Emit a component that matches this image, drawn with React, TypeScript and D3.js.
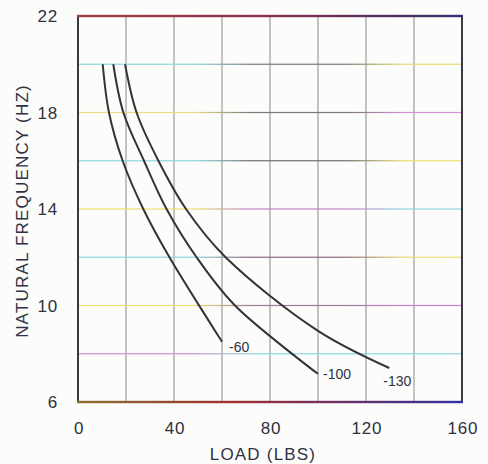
import React from 'react';
import * as d3 from 'd3';

// Load (lbs) vs natural frequency (Hz) for the three isolator models
const seriesNames = ['-60', '-100', '-130'];
const loads60 = [10.3, 12.9, 18.6, 27.2, 38.1, 60];
const freqs60 = [20, 18, 16, 14, 12, 8.5];
const loads100 = [14.7, 18.9, 27.5, 36.9, 49.4, 65.4, 100];
const freqs100 = [20, 18, 16, 14, 12, 10, 7.17];
const loads130 = [19.6, 24.4, 33.5, 45, 61.5, 100, 129.7];
const freqs130 = [20, 18, 16, 14, 12, 8.95, 7.41];

const xTicks = [0, 40, 80, 120, 160];
const yTicks = [6, 10, 14, 18, 22];
const xGrid = [20, 40, 60, 80, 100, 120, 140];
const yGrid = [8, 10, 12, 14, 16, 18, 20];

// misregistered print colours for each horizontal rule (left, middle, right)
const gridTints: Record<number, [string, string, string]> = {
  20: ['#8fd8e0', '#7a7a80', '#e8e070'],
  18: ['#e8e080', '#7a7a7a', '#d890d8'],
  16: ['#8fd8e0', '#6e6e70', '#e8e070'],
  14: ['#e8e070', '#c080c8', '#8fd8e0'],
  12: ['#8fd8e0', '#8a6a80', '#e8e070'],
  10: ['#e8e070', '#a07a98', '#d080d8'],
  8: ['#c890d0', '#8fd8e0', '#8fd8e0'],
};

const App: React.FC = () => {
  const width = 488;
  const height = 464;
  const margin = { top: 16, right: 26, bottom: 62, left: 78 };
  const innerW = width - margin.left - margin.right;
  const innerH = height - margin.top - margin.bottom;

  const x = d3.scaleLinear().domain([0, 160]).range([0, innerW]);
  const y = d3.scaleLinear().domain([6, 22]).range([innerH, 0]);

  const line = d3.line<[number, number]>()
    .x(d => x(d[0]))
    .y(d => y(d[1]))
    .curve(d3.curveCatmullRom.alpha(0.5));

  const series = [
    { name: seriesNames[0], pts: loads60.map((l, i) => [l, freqs60[i]] as [number, number]), dx: 7, dy: 10 },
    { name: seriesNames[1], pts: loads100.map((l, i) => [l, freqs100[i]] as [number, number]), dx: 5, dy: 5 },
    { name: seriesNames[2], pts: loads130.map((l, i) => [l, freqs130[i]] as [number, number]), dx: -6, dy: 18 },
  ];

  const textColor = '#2e3244';
  const font = 'Liberation Sans, Arial, sans-serif';

  return (
    <svg width={width} height={height} style={{ position: 'absolute', left: 0, top: 0 }}>
      <defs>
        {yGrid.map(v => (
          <linearGradient key={v} id={`g${v}`} x1="0" x2="1" y1="0" y2="0">
            <stop offset="0%" stopColor={gridTints[v][0]} />
            <stop offset="30%" stopColor={gridTints[v][0]} />
            <stop offset="45%" stopColor={gridTints[v][1]} />
            <stop offset="70%" stopColor={gridTints[v][1]} />
            <stop offset="85%" stopColor={gridTints[v][2]} />
            <stop offset="100%" stopColor={gridTints[v][2]} />
          </linearGradient>
        ))}
        <linearGradient id="topEdge" x1="0" x2="1" y1="0" y2="0">
          <stop offset="0%" stopColor="#a04040" />
          <stop offset="50%" stopColor="#8a3050" />
          <stop offset="100%" stopColor="#303070" />
        </linearGradient>
        <linearGradient id="bottomEdge" x1="0" x2="1" y1="0" y2="0">
          <stop offset="0%" stopColor="#8a7030" />
          <stop offset="40%" stopColor="#a03030" />
          <stop offset="100%" stopColor="#3030a0" />
        </linearGradient>
      </defs>
      <rect width={width} height={height} fill="#fcfcfa" />
      <g transform={`translate(${margin.left},${margin.top})`}>
        {xGrid.map(v => (
          <line key={v} x1={x(v)} x2={x(v)} y1={0} y2={innerH} stroke="#8a8a8e" strokeWidth={1} />
        ))}
        {yGrid.map(v => (
          <rect key={v} x={0} y={y(v) - 0.6} width={innerW} height={1.2} fill={`url(#g${v})`} />
        ))}

        {/* frame */}
        <line x1={0} x2={0} y1={0} y2={innerH} stroke="#3a3a3e" strokeWidth={2} />
        <line x1={innerW} x2={innerW} y1={0} y2={innerH} stroke="#3a3a44" strokeWidth={2} />
        <rect x={-1} y={-1.2} width={innerW + 2} height={2.4} fill="url(#topEdge)" />
        <rect x={-1} y={innerH - 1.2} width={innerW + 2} height={2.4} fill="url(#bottomEdge)" />

        {series.map(s => {
          const last = s.pts[s.pts.length - 1];
          return (
            <g key={s.name}>
              <path d={line(s.pts) ?? ''} fill="none" stroke="#333338" strokeWidth={2} />
              <text
                x={x(last[0]) + s.dx}
                y={y(last[1]) + s.dy}
                fontFamily={font}
                fontSize={14}
                fill={textColor}
              >
                {s.name}
              </text>
            </g>
          );
        })}

        {yTicks.map(v => (
          <text key={v} x={-20} y={y(v)} dy="0.36em" textAnchor="end" fontFamily={font} fontSize={17} letterSpacing={0.8} fill={textColor}>
            {v}
          </text>
        ))}
        {xTicks.map(v => (
          <text key={v} x={x(v) + 1} y={innerH + 32} textAnchor="middle" fontFamily={font} fontSize={17} letterSpacing={0.8} fill={textColor}>
            {v}
          </text>
        ))}
        <text x={innerW / 2 - 7} y={innerH + 58} textAnchor="middle" fontFamily={font} fontSize={17} letterSpacing={1.2} fill={textColor}>
          LOAD (LBS)
        </text>
        <text
          transform={`translate(${-50},${innerH / 2 + 2}) rotate(-90)`}
          textAnchor="middle"
          fontFamily={font}
          fontSize={17}
          letterSpacing={1.2}
          fill={textColor}
        >
          NATURAL FREQUENCY (HZ)
        </text>
      </g>
    </svg>
  );
};

export default App;
